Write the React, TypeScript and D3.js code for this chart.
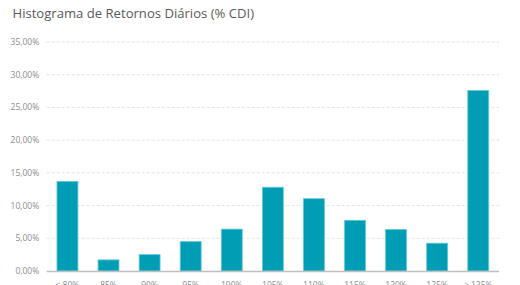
import * as d3 from 'd3';

const categories = ['≤ 80%', '85%', '90%', '95%', '100%', '105%', '110%', '115%', '120%', '125%', '> 125%'];
const frequencies = [13.7, 1.7, 2.5, 4.5, 6.4, 12.8, 11.05, 7.75, 6.35, 4.25, 27.6];
const yTicks = [0, 5, 10, 15, 20, 25, 30, 35];

const WIDTH = 520;
const HEIGHT = 285;
const MARGIN = { top: 42, right: 21, bottom: 14, left: 46.7 };

const fmt = (v: number) => v.toFixed(2).replace('.', ',') + '%';

export default function App() {
  const boundsWidth = WIDTH - MARGIN.left - MARGIN.right;
  const boundsHeight = HEIGHT - MARGIN.top - MARGIN.bottom;

  const xScale = d3
    .scaleBand<string>()
    .domain(categories)
    .range([0, boundsWidth])
    .paddingInner(0.49)
    .paddingOuter(0.25);

  const yScale = d3.scaleLinear().domain([0, 35]).range([boundsHeight, 0]);

  const font = "'Open Sans', 'DejaVu Sans', sans-serif";

  return (
    <svg
      width={WIDTH}
      height={HEIGHT}
      style={{ position: 'absolute', left: 0, top: 0, background: '#fff' }}
    >
      <text x={12.5} y={18} fontFamily={font} fontSize={13.1} fill="#595959">
        Histograma de Retornos Diários (% CDI)
      </text>
      <g transform={`translate(${MARGIN.left},${MARGIN.top})`}>
        {/* grid + y labels */}
        {yTicks.map((t) => (
          <g key={t}>
            {t > 0 && (
              <line
                x1={0}
                x2={boundsWidth}
                y1={yScale(t)}
                y2={yScale(t)}
                stroke="#e3e3e3"
                strokeWidth={1}
                strokeDasharray="3,2"
              />
            )}
            <text
              x={-7.5}
              y={yScale(t)}
              dy="0.35em"
              textAnchor="end"
              fontFamily={font}
              fontSize={8.5}
              fill="#8c8c8c"
            >
              {fmt(t)}
            </text>
          </g>
        ))}
        {/* bars */}
        {categories.map((c, i) => (
          <rect
            key={c}
            x={xScale(c)}
            y={yScale(frequencies[i])}
            width={xScale.bandwidth()}
            height={boundsHeight - yScale(frequencies[i])}
            fill="#009db5"
            stroke="#62cbd9"
            strokeWidth={0.8}
          />
        ))}
        {/* x axis */}
        <line x1={0} x2={boundsWidth} y1={boundsHeight + 0.5} y2={boundsHeight + 0.5} stroke="#bfbfbf" strokeWidth={1.5} />
        {categories.map((c) => (
          <text
            key={c}
            x={(xScale(c) ?? 0) + xScale.bandwidth() / 2}
            y={boundsHeight + 17}
            textAnchor="middle"
            fontFamily={font}
            fontSize={8.5}
            fill="#8c8c8c"
          >
            {c}
          </text>
        ))}
      </g>
    </svg>
  );
}
